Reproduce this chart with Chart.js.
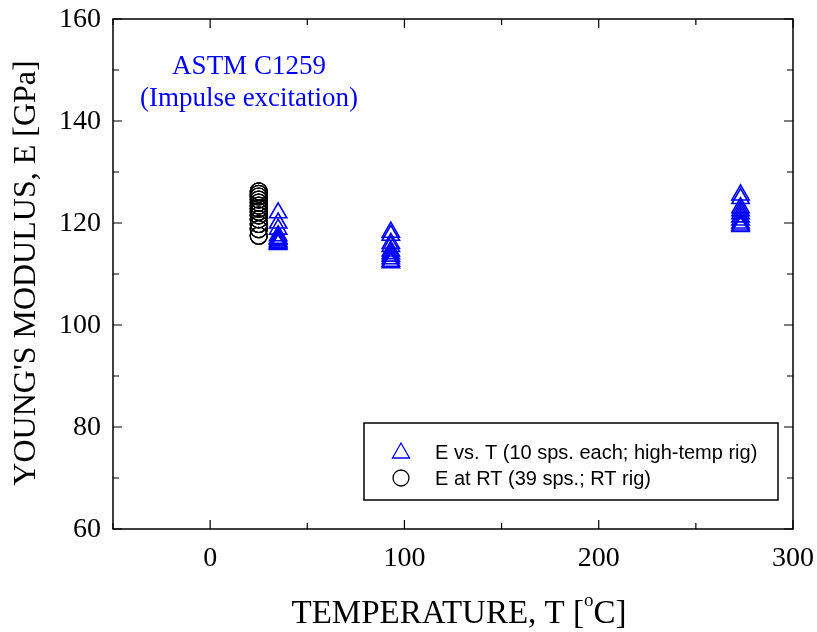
<!DOCTYPE html>
<html>
<head>
<meta charset="utf-8">
<script src="https://cdn.jsdelivr.net/npm/chart.js@4"></script>
<style>
html,body{margin:0;padding:0;background:#fff;}
</style>
</head>
<body>
<canvas id="chart" width="817" height="632"></canvas>
<script>
// Temperatures [C] and moduli [GPa]
const hotT = [35,35,35,35,35,35,35,35,35,35, 93,93,93,93,93,93,93,93,93,93, 273,273,273,273,273,273,273,273,273,273];
const hotE = [122.0,120.0,118.8,117.5,117.0,116.8,116.5,116.2,116.0,115.8,
              118.2,117.6,116.0,115.4,114.5,114.0,113.5,113.0,112.5,112.2,
              125.5,124.8,123.0,122.4,121.8,121.2,120.6,120.0,119.6,119.3];
const rtT = Array(39).fill(25);
const rtE = [126.2,126.2,126.2,125.7,125.7,125.7,125.2,125.2,125.2,124.6,
             124.6,124.6,124.0,124.0,124.0,123.4,123.4,123.4,122.8,122.8,
             122.8,122.2,122.2,122.2,121.5,121.5,121.5,120.7,120.7,120.7,
             119.8,119.8,119.8,118.8,118.8,118.8,117.5,117.5,117.5];
const xTicks = [0,100,200,300];
const yTicks = [60,80,100,120,140,160];
const legendLabels = ['E vs. T (10 sps. each; high-temp rig)','E at RT (39 sps.; RT rig)'];
const noteLines = ['ASTM C1259','(Impulse excitation)'];
const yTitle = "YOUNG'S MODULUS, E [GPa]";

const serif = '"Liberation Serif","Times New Roman",serif';
const sans = '"Liberation Sans",Arial,sans-serif';

const decor = {
  id:'decor',
  afterDraw(chart){
    const c = chart.ctx, a = chart.chartArea;
    const xs = chart.scales.x, ys = chart.scales.y;
    c.save();
    c.strokeStyle = '#000';
    c.lineWidth = 1.5;
    c.strokeRect(a.left, a.top, a.right-a.left, a.bottom-a.top);
    c.lineWidth = 1.2;
    c.beginPath();
    for(let v=-50; v<=300; v+=50){
      const p = xs.getPixelForValue(v);
      const len = v%100===0 ? 9 : 6;
      c.moveTo(p, a.bottom); c.lineTo(p, a.bottom-len);
      c.moveTo(p, a.top); c.lineTo(p, a.top+len);
    }
    for(let v=60; v<=160; v+=10){
      const p = ys.getPixelForValue(v);
      const len = v%20===0 ? 9 : 6;
      c.moveTo(a.left, p); c.lineTo(a.left+len, p);
      c.moveTo(a.right, p); c.lineTo(a.right-len, p);
    }
    c.stroke();

    // tick labels
    c.fillStyle = '#000';
    c.font = '28px '+serif;
    c.textBaseline = 'middle';
    c.textAlign = 'right';
    ys.ticks.forEach(t=>c.fillText(String(t.value), a.left-12, ys.getPixelForValue(t.value)+1));
    c.textAlign = 'center';
    xs.ticks.forEach(t=>c.fillText(String(t.value), xs.getPixelForValue(t.value), 559));

    // y title
    c.save();
    c.translate(27, 273);
    c.rotate(-Math.PI/2);
    c.font = '32px '+serif;
    c.fillText(yTitle, 0, 0);
    c.restore();

    // x title with superscript
    const t1 = 'TEMPERATURE, T [', t2 = 'o', t3 = 'C]';
    c.font = '33px '+serif;
    const w1 = c.measureText(t1).width, w3 = c.measureText(t3).width;
    c.font = '19px '+serif;
    const w2 = c.measureText(t2).width;
    const x0 = 459 - (w1+w2+w3)/2;
    c.textAlign = 'left';
    c.textBaseline = 'alphabetic';
    c.font = '33px '+serif;
    c.fillText(t1, x0, 623);
    c.font = '19px '+serif;
    c.fillText(t2, x0+w1, 606);
    c.font = '33px '+serif;
    c.fillText(t3, x0+w1+w2, 623);

    // note
    c.fillStyle = '#0000ff';
    c.font = '27px '+serif;
    c.textAlign = 'center';
    c.textBaseline = 'middle';
    c.fillText(noteLines[0], 249, 67);
    c.fillText(noteLines[1], 249, 99);

    // legend
    c.fillStyle = '#fff';
    c.fillRect(364, 423, 414, 77);
    c.strokeStyle = '#000';
    c.lineWidth = 1.5;
    c.strokeRect(364, 423, 414, 77);
    c.lineWidth = 1.3;
    c.strokeStyle = '#0000ff';
    c.beginPath();
    c.moveTo(401, 443); c.lineTo(409.5, 458); c.lineTo(392.5, 458); c.closePath();
    c.stroke();
    c.strokeStyle = '#000';
    c.beginPath();
    c.arc(401, 478, 8, 0, Math.PI*2);
    c.stroke();
    c.fillStyle = '#000';
    c.font = '20px '+sans;
    c.textAlign = 'left';
    c.fillText(legendLabels[0], 435, 453);
    c.fillText(legendLabels[1], 435, 479);
    c.restore();
  }
};

const ctx = document.getElementById('chart').getContext('2d');
const chart = new Chart(ctx,{
  type:'scatter',
  data:{
    datasets:[{
      label:legendLabels[0],
      data:hotT.map((t,i)=>({x:t,y:hotE[i]})),
      pointStyle:'triangle',
      pointRadius:10,
      borderColor:'#0000ff',
      backgroundColor:'rgba(0,0,0,0)',
      borderWidth:1.6
    },{
      label:legendLabels[1],
      data:rtT.map((t,i)=>({x:t,y:rtE[i]})),
      pointStyle:'circle',
      pointRadius:8.5,
      borderColor:'#000',
      backgroundColor:'rgba(0,0,0,0)',
      borderWidth:1.2
    }]
  },
  options:{
    responsive:false,
    animation:false,
    layout:{padding:{top:19,right:24,left:0,bottom:0}},
    plugins:{legend:{display:false},tooltip:{enabled:false}},
    scales:{
      x:{
        type:'linear',min:-50,max:300,
        afterBuildTicks(s){ s.ticks = xTicks.map(v=>({value:v})); },
        afterFit(s){ s.height = 103; },
        grid:{display:false,drawTicks:false},
        border:{display:false},
        ticks:{display:false}
      },
      y:{
        type:'linear',min:60,max:160,
        afterBuildTicks(s){ s.ticks = yTicks.map(v=>({value:v})); },
        afterFit(s){ s.width = 113; },
        grid:{display:false,drawTicks:false},
        border:{display:false},
        ticks:{display:false}
      }
    }
  },
  plugins:[decor]
});
</script>
</body>
</html>
